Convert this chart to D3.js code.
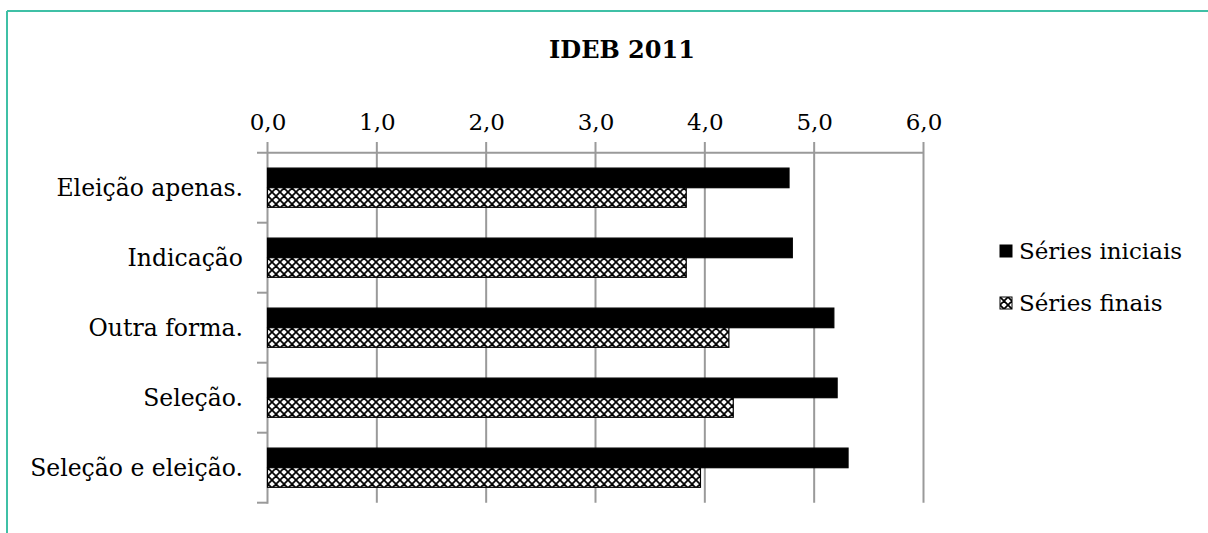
<!DOCTYPE html>
<html>
<head>
<meta charset="utf-8">
<script src="https://cdn.jsdelivr.net/npm/d3@7"></script>
<style>
  html, body { margin: 0; padding: 0; background: #fff; }
  svg { display: block; }
  text { font-family: "DejaVu Serif", serif; fill: #000; }
</style>
</head>
<body>
<svg id="chart" width="1208" height="533"></svg>
<script>
// IDEB 2011 by how the school principal was chosen
const categories = ["Eleição apenas.", "Indicação", "Outra forma.", "Seleção.", "Seleção e eleição."];
const seriesNames = ["Séries iniciais", "Séries finais"];
const iniciais = [4.77, 4.80, 5.18, 5.21, 5.31];
const finais = [3.83, 3.83, 4.22, 4.26, 3.96];
const tickValues = [0, 1, 2, 3, 4, 5, 6];
const title = "IDEB 2011";

const svg = d3.select("#chart");
const W = 1208, H = 533;
const serif = "DejaVu Serif, serif";

// frame lines along top and left edge
svg.append("line").attr("x1", 7).attr("x2", W).attr("y1", 11).attr("y2", 11)
  .attr("stroke", "#3fc0a6").attr("stroke-width", 2);
svg.append("line").attr("x1", 7).attr("x2", 7).attr("y1", 11).attr("y2", H)
  .attr("stroke", "#3fc0a6").attr("stroke-width", 2);

// diamond hatch fill for the second series
const defs = svg.append("defs");
const pat = defs.append("pattern").attr("id", "hatch")
  .attr("patternUnits", "userSpaceOnUse").attr("width", 8).attr("height", 8);
pat.append("rect").attr("width", 8).attr("height", 8).attr("fill", "#fff");
pat.append("path").attr("d", "M0,0L8,8M8,0L0,8M-4,4L4,12M4,-4L12,4M4,12L12,4M-4,4L4,-4")
  .attr("stroke", "#000").attr("stroke-width", 1.7);

const x = d3.scaleLinear().domain([0, 6]).range([267.5, 923.5]);
const y = d3.scaleBand().domain(categories).range([152.7, 502.7])
  .paddingInner(0.44).paddingOuter(0.22);
const ySub = d3.scaleBand().domain(seriesNames).range([0, y.bandwidth()]);
const fills = { "Séries iniciais": "#000", "Séries finais": "url(#hatch)" };

const plotTop = 142, plotBottom = 502.7;
const gridColor = "#9a9a9a";

// vertical gridlines
svg.append("g").selectAll("line").data(tickValues.slice(1)).join("line")
  .attr("x1", d => x(d)).attr("x2", d => x(d))
  .attr("y1", plotTop).attr("y2", plotBottom)
  .attr("stroke", gridColor).attr("stroke-width", 2);

// value axis on top
const xAxis = d3.axisTop(x).tickValues(tickValues)
  .tickFormat(d => d3.format(".1f")(d).replace(".", ","))
  .tickSize(0).tickPadding(23);
const gx = svg.append("g").attr("transform", `translate(0,${y.range()[0]})`).call(xAxis);
gx.select(".domain").remove();
gx.attr("font-family", serif);
gx.selectAll("text").attr("font-size", 23).style("font-family", serif).attr("fill", "#000");
svg.append("line").attr("x1", 257).attr("x2", x(6)).attr("y1", y.range()[0]).attr("y2", y.range()[0])
  .attr("stroke", gridColor).attr("stroke-width", 2);

// category axis
svg.append("line").attr("x1", x(0)).attr("x2", x(0)).attr("y1", plotTop).attr("y2", plotBottom + 1)
  .attr("stroke", gridColor).attr("stroke-width", 2);
const bounds = categories.map(c => y(c) - y.step() * y.paddingInner() / 2).slice(1).concat([plotBottom]);
svg.append("g").selectAll("line").data(bounds).join("line")
  .attr("x1", 257).attr("x2", x(0)).attr("y1", d => d).attr("y2", d => d)
  .attr("stroke", gridColor).attr("stroke-width", 2);
svg.append("g").selectAll("text").data(categories).join("text")
  .attr("x", 243).attr("y", d => y(d) + y.bandwidth() / 2 + 8)
  .attr("text-anchor", "end").attr("font-size", 23.5)
  .text(d => d);

// bars
const rows = categories.map((c, i) => ({ cat: c, values: [
  { s: seriesNames[0], v: iniciais[i] }, { s: seriesNames[1], v: finais[i] }] }));
svg.append("g").selectAll("g").data(rows).join("g")
  .attr("transform", d => `translate(0,${y(d.cat)})`)
  .selectAll("rect").data(d => d.values).join("rect")
  .attr("x", x(0)).attr("y", d => ySub(d.s))
  .attr("width", d => x(d.v) - x(0)).attr("height", ySub.bandwidth())
  .attr("fill", d => fills[d.s]).attr("stroke", "#000").attr("stroke-width", 1.2);

// title
svg.append("text").attr("x", 622).attr("y", 58).attr("text-anchor", "middle")
  .attr("font-size", 24).attr("font-weight", "bold").text(title);

// legend
const lg = svg.append("g").selectAll("g").data(seriesNames).join("g")
  .attr("transform", (d, i) => `translate(1000,${245 + i * 52})`);
lg.append("rect").attr("width", 12).attr("height", 12)
  .attr("fill", d => fills[d]).attr("stroke", "#000").attr("stroke-width", 1);
lg.append("text").attr("x", 19).attr("y", 14).attr("font-size", 23)
  .text(d => d);
</script>
</body>
</html>
